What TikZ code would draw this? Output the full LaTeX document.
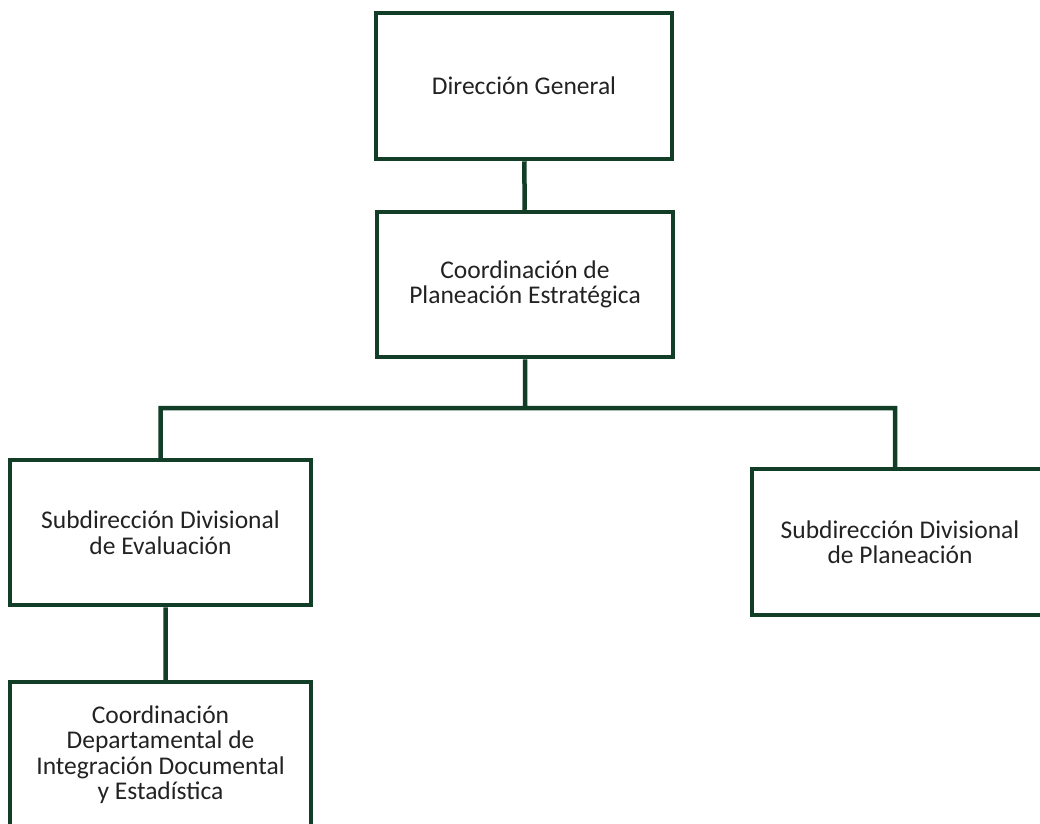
\documentclass[tikz,border=0pt]{standalone}
\usepackage{fontspec}
\setmainfont{Carlito}
\definecolor{orgline}{HTML}{123D27}
\definecolor{orgtext}{HTML}{222222}
\tikzset{
  unit/.style={draw=orgline, line width=4.5pt, rectangle, align=center,
    text=orgtext, font=\fontsize{25.5}{25.5}\selectfont,
    minimum width=296pt, minimum height=146pt, inner sep=0pt},
  link/.style={draw=orgline, line width=4.5pt}
}
\begin{document}
\begin{tikzpicture}[x=1pt,y=-1pt]
  \clip (0,0) rectangle (1040,823);
  \useasboundingbox (0,0) rectangle (1040,823);
  \node[unit] (dg) at (524,86) {Dirección General};
  \node[unit, minimum height=145pt] (cpe) at (525,284.5) {Coordinación de\\Planeación Estratégica};
  \node[unit, minimum width=301pt, minimum height=145pt] (sde) at (160.5,532.5) {Subdirección Divisional\\de Evaluación};
  \node[unit] (sdp) at (900,542) {Subdirección Divisional\\de Planeación};
  \node[unit, minimum width=301pt, minimum height=145pt] (cdi) at (160.5,754.5) {Coordinación\\Departamental de\\Integración Documental\\y Estadística};
  \coordinate (bus) at (525,408);
  % enlaces
  \path[link]
    (dg) -- (cpe)
    (cpe) -- (bus) -| (sde.north)
    (bus) -| ([xshift=-5pt]sdp.north)
    ([xshift=5pt]sde.south) -- ([xshift=5pt]cdi.north);
\end{tikzpicture}
\end{document}
